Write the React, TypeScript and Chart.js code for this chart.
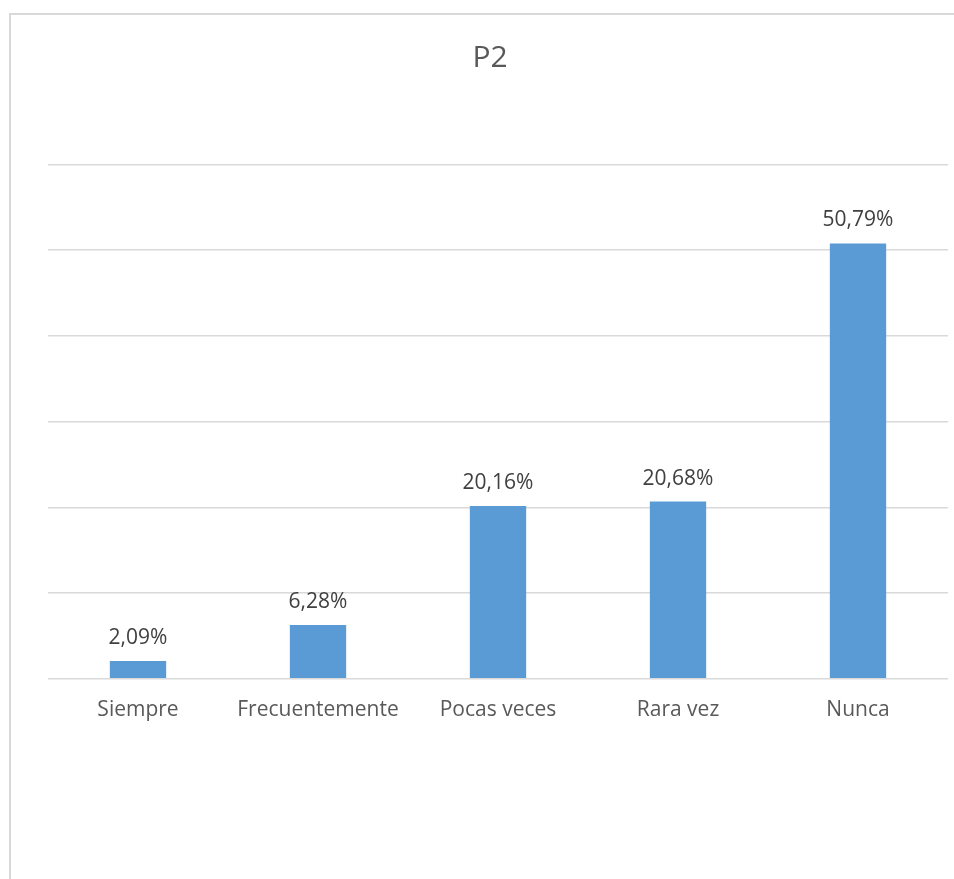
import React, { useEffect, useRef } from "react";
import { Chart, registerables } from "chart.js";

Chart.register(...registerables);

const title = "P2";
const categories = ["Siempre", "Frecuentemente", "Pocas veces", "Rara vez", "Nunca"];
const values = [2.09, 6.28, 20.16, 20.68, 50.79];
const yMin = 0;
const yMax = 60;
const yStep = 10;

const FONT = "'Open Sans', 'Noto Sans', sans-serif";

const valueLabels = {
  id: "valueLabels",
  afterDatasetsDraw(chart: any) {
    const ctx = chart.ctx;
    const meta = chart.getDatasetMeta(0);
    ctx.save();
    ctx.font = `21px ${FONT}`;
    ctx.fillStyle = "#404040";
    ctx.textAlign = "center";
    ctx.textBaseline = "alphabetic";
    meta.data.forEach((bar: any, i: number) => {
      const v = chart.data.datasets[0].data[i] as number;
      const txt = v.toFixed(2).replace(".", ",") + "%";
      ctx.fillText(txt, bar.x, bar.y - 17);
    });
    ctx.restore();
  },
};

export default function App() {
  const ref = useRef<HTMLCanvasElement>(null);
  useEffect(() => {
    document.body.style.margin = "0";
    const chart = new Chart(ref.current!, {
      type: "bar",
      data: {
        labels: categories,
        datasets: [
          {
            data: values,
            backgroundColor: "#5B9BD5",
            borderWidth: 0,
            categoryPercentage: 1,
            barPercentage: 0.313,
          },
        ],
      },
      options: {
        animation: false,
        responsive: false,
        maintainAspectRatio: false,
        layout: { padding: { left: 32, right: 6, top: 40, bottom: 137 } },
        plugins: {
          legend: { display: false },
          tooltip: { enabled: false },
          title: {
            display: true,
            text: title,
            color: "#595959",
            font: { family: FONT, size: 30, weight: "normal" as any },
            padding: { top: 0, bottom: 88.5 },
          },
        },
        scales: {
          x: {
            grid: { display: false, drawTicks: false },
            border: { display: false },
            ticks: {
              color: "#595959",
              font: { family: FONT, size: 21 },
              padding: 19,
              maxRotation: 0,
              autoSkip: false,
            },
          },
          y: {
            min: yMin,
            max: yMax,
            afterFit: (s: any) => {
              s.width = 16;
            },
            ticks: { display: false, stepSize: yStep },
            grid: { color: "#d9d9d9", lineWidth: 1.5, drawTicks: false },
            border: { display: false },
          },
        },
      },
      plugins: [valueLabels],
    });
    return () => chart.destroy();
  }, []);
  return (
    <div style={{ position: "fixed", left: 0, top: 0, width: 954, height: 879, background: "#fff", overflow: "hidden" }}>
      <div
        style={{
          position: "absolute",
          left: 9,
          top: 13,
          width: 960,
          height: 900,
          borderLeft: "2px solid #d9d9d9",
          borderTop: "2px solid #d9d9d9",
        }}
      />
      <canvas ref={ref} width={954} height={879} style={{ position: "absolute", left: 0, top: 0 }} />
    </div>
  );
}
